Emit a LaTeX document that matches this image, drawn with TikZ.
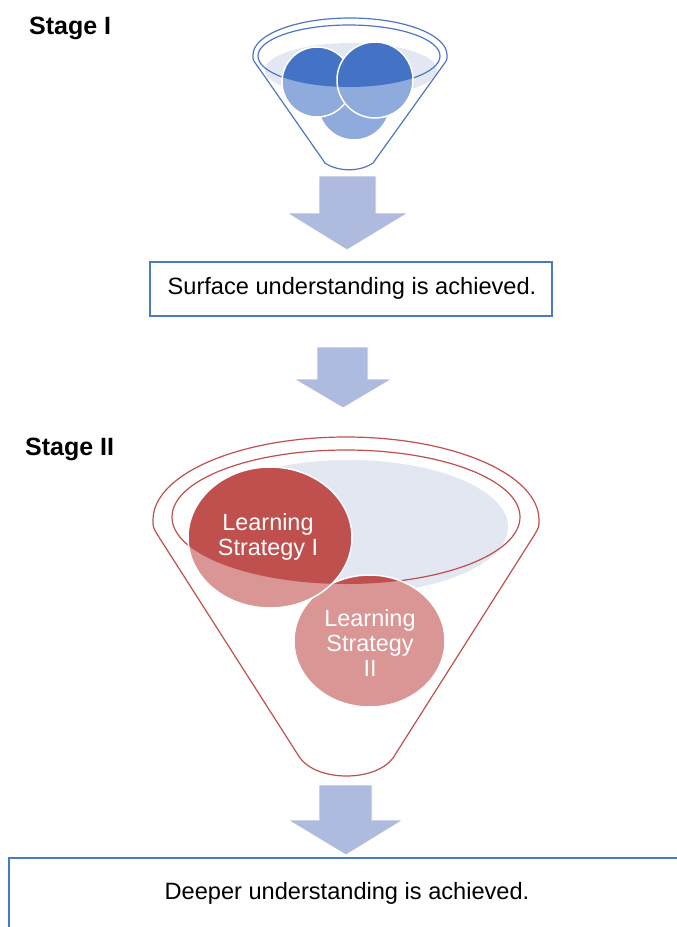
\documentclass[tikz,border=0pt]{standalone}
\usepackage{fontspec}
\setmainfont{Liberation Sans}
\definecolor{funnelblue}{HTML}{4F76C4}
\definecolor{boxblue}{HTML}{4A7AC4}
\definecolor{darkblue}{HTML}{4472C4}
\definecolor{lightblue}{HTML}{8FAADC}
\definecolor{lightfill}{HTML}{E2E7F2}
\definecolor{arrowfill}{HTML}{AFBBDE}
\definecolor{darkred}{HTML}{C0504D}
\definecolor{lightred}{HTML}{D99694}
\tikzset{
  blockarrow/.style={fill=arrowfill, draw=white, line width=0.8pt, line join=miter},
  textbox/.style={draw=boxblue, line width=2pt, fill=white, inner sep=0pt},
  boxtext/.style={font=\fontsize{23.6}{26}\selectfont, text=black, inner sep=0pt},
  stagelabel/.style={font=\fontsize{25}{28}\selectfont\bfseries, anchor=base west, inner sep=0pt},
  striptext/.style={font=\fontsize{23.4}{25}\selectfont, text=white, align=center, inner sep=0pt},
  funnelline/.style={line width=1.2pt},
  ballrim/.style={draw=white, line width=1.5pt}
}
\begin{document}
\begin{tikzpicture}[x=1pt,y=-1pt]
\useasboundingbox (0,0) rectangle (677,927);
\clip (0,0) rectangle (677,927);
\fill[white] (0,0) rectangle (677,927);

% ---------- Stage I ----------
\node[stagelabel] (stage1) at (29,34) {Stage I};

% light liquid
\fill[lightfill] (351,70) ellipse [x radius=86pt, y radius=27pt];
% outer funnel outline
\draw[funnelblue, funnelline]
  (447,55) arc[start angle=0, end angle=180, x radius=97pt, y radius=37pt]
  .. controls (253,60) .. (256,64) -- (325,163)
  .. controls (338,172) and (360,172) .. (373,163) -- (444,64)
  .. controls (447,60) .. cycle;
% inner rim
\draw[funnelblue, funnelline] (349,56) ellipse [x radius=91pt, y radius=31pt];
% balls
\foreach \cx/\cy/\r/\nm in {354/104/36/ballc, 317/82/35/balla, 375/80/38/ballb}{
  \fill[lightblue] (\cx,\cy) circle[radius=\r pt];
  \begin{scope}
    \clip (349,56) ellipse [x radius=91pt, y radius=31pt];
    \fill[darkblue] (\cx,\cy) circle[radius=\r pt];
  \end{scope}
  \draw[ballrim] (\cx,\cy) circle[radius=\r pt];
}

% arrow 1
\fill[blockarrow] (319,176) -- (376,176) -- (376,213) -- (408,213) -- (347,250)
  -- (287,213) -- (319,213) -- cycle;

% box 1
\node[textbox, minimum width=402pt, minimum height=54pt] (box1) at (351,289) {};
\node[boxtext] (box1text) at (352,288) {Surface understanding is achieved.};

% arrow 2
\fill[blockarrow] (317,347) -- (368,347) -- (368,379) -- (392,379) -- (343,408)
  -- (294,379) -- (317,379) -- cycle;

% ---------- Stage II ----------
\node[stagelabel] (stage2) at (25,455) {Stage II};

\fill[lightfill] (349,527) ellipse [x radius=159pt, y radius=67pt];
\draw[darkred, funnelline]
  (539,520) arc[start angle=0, end angle=180, x radius=193pt, y radius=83pt]
  .. controls (153,527) .. (157,534) -- (300,758)
  .. controls (318,782) and (375,782) .. (393,758) -- (535,534)
  .. controls (539,527) .. cycle;
\draw[darkred, funnelline] (346,517) ellipse [x radius=174pt, y radius=67pt];

\foreach \cx/\cy/\rx/\ry in {369.5/641/75.5/66, 270/537.5/82/70.5}{
  \fill[lightred] (\cx,\cy) ellipse [x radius=\rx pt, y radius=\ry pt];
  \begin{scope}
    \clip (346,517) ellipse [x radius=174pt, y radius=67pt];
    \fill[darkred] (\cx,\cy) ellipse [x radius=\rx pt, y radius=\ry pt];
  \end{scope}
  \draw[ballrim] (\cx,\cy) ellipse [x radius=\rx pt, y radius=\ry pt];
}
\node[striptext] (strat1) at (268,537) {Learning\\Strategy I};
\node[striptext] (strat2) at (370,643) {Learning\\Strategy\\II};

% arrow 3
\fill[blockarrow] (319,785) -- (372,785) -- (372,820) -- (403,820) -- (346,855)
  -- (288,820) -- (319,820) -- cycle;

% box 2
\node[textbox, anchor=north west, minimum width=700pt, minimum height=110pt] (box2) at (8,857) {};
\node[boxtext] (box2text) at (347,893) {Deeper understanding is achieved.};
\end{tikzpicture}
\end{document}
